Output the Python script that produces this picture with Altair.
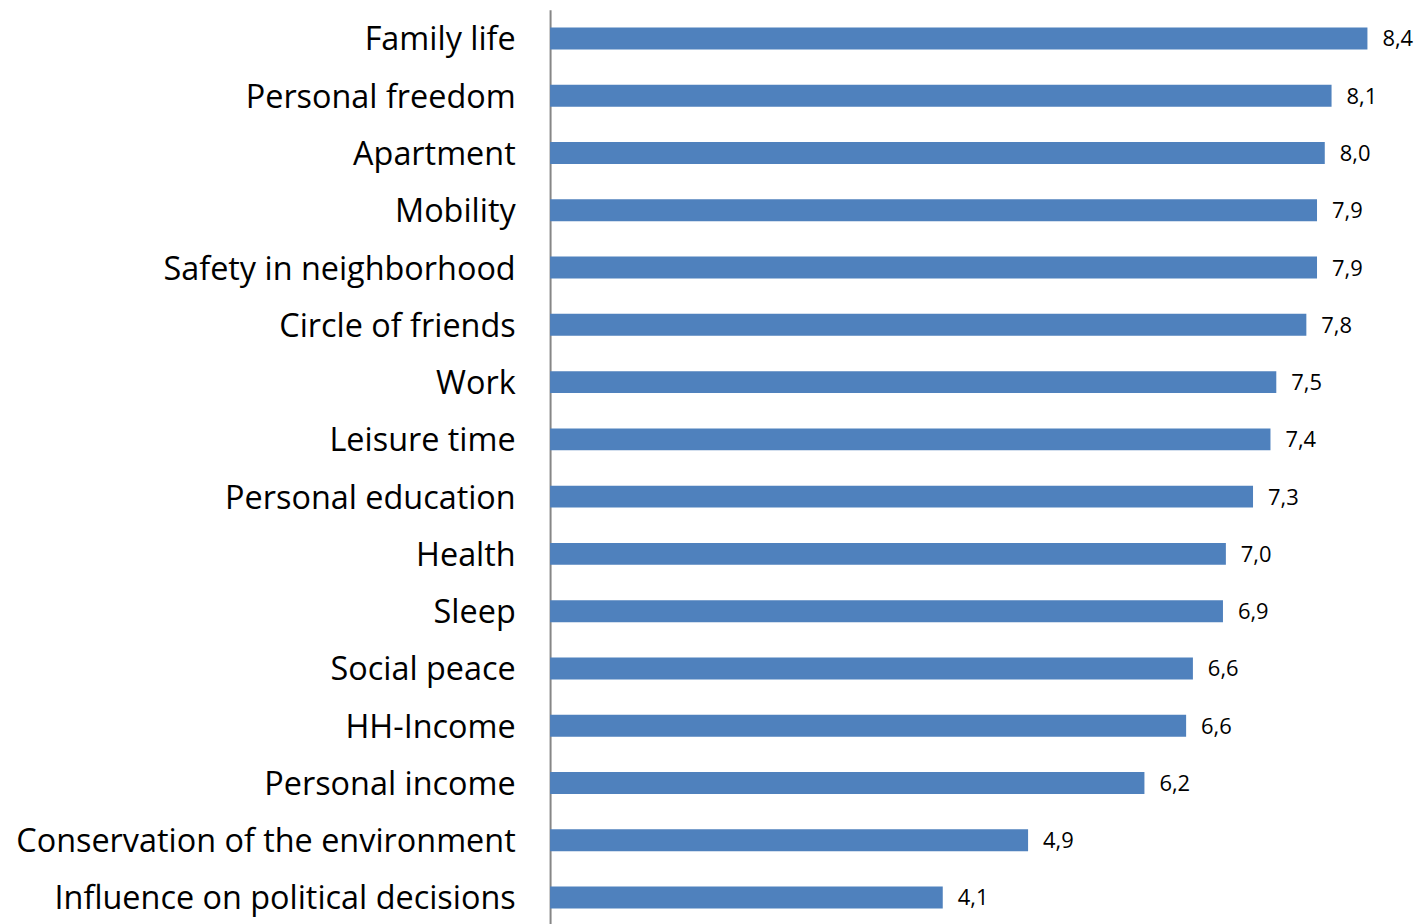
import altair as alt
import pandas as pd

categories = [
    "Family life", "Personal freedom", "Apartment", "Mobility",
    "Safety in neighborhood", "Circle of friends", "Work", "Leisure time",
    "Personal education", "Health", "Sleep", "Social peace", "HH-Income",
    "Personal income", "Conservation of the environment",
    "Influence on political decisions",
]
values = [8.43, 8.06, 7.99, 7.91, 7.91, 7.80, 7.49, 7.43, 7.25, 6.97, 6.94,
          6.63, 6.56, 6.13, 4.93, 4.05]
labels = ["8,4", "8,1", "8,0", "7,9", "7,9", "7,8", "7,5", "7,4", "7,3",
          "7,0", "6,9", "6,6", "6,6", "6,2", "4,9", "4,1"]

df = pd.DataFrame({"category": categories, "value": values, "label": labels})

y = alt.Y(
    "category:N", sort=categories, title=None,
    scale=alt.Scale(paddingInner=0.617, paddingOuter=0.3125),
    axis=alt.Axis(
        ticks=False, domainColor="#868686", domainWidth=2,
        labelFont="Open Sans", labelFontSize=32.5, labelColor="#000000",
        labelPadding=35, labelLimit=1000, labelOffset=2,
        minExtent=544, maxExtent=544, grid=False,
    ),
)
x = alt.X("value:Q", title=None, axis=None,
          scale=alt.Scale(domain=[0, 8.53], nice=False, zero=True))

bars = alt.Chart(df).mark_bar(color="#4F81BD").encode(x=x, y=y)
text = alt.Chart(df).mark_text(
    align="left", baseline="middle", dx=15, dy=1, font="Open Sans",
    fontSize=22, color="#000000",
).encode(x=x, y=y, text="label:N")

chart = (bars + text).properties(
    width=830, height=920, padding={"left": 0, "top": 0, "right": 0, "bottom": 0}
).configure_view(stroke=None)

chart.save("out.html", embed_options={"renderer": "svg", "actions": False})
